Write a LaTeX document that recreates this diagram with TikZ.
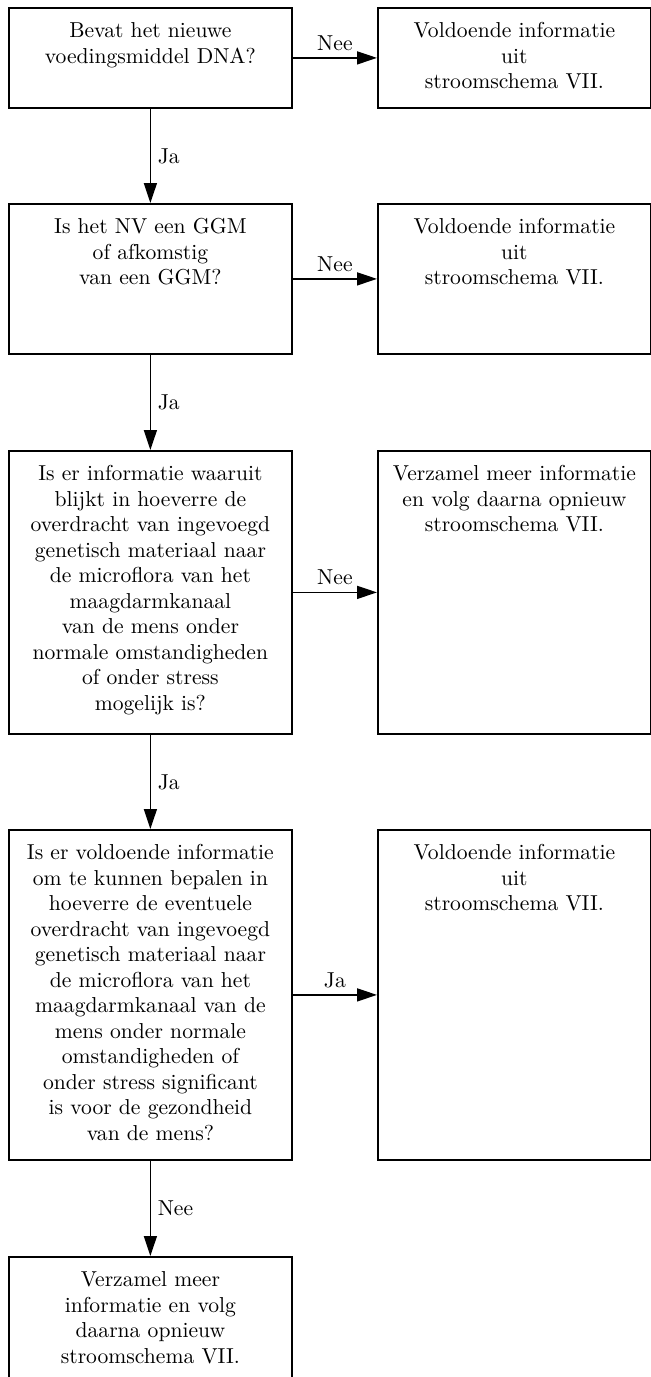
\documentclass[tikz,border=0pt]{standalone}
\usetikzlibrary{arrows.meta,positioning}

% text block at the top of a box: height, width, lines
\newcommand{\toplines}[3]{\parbox[t][#1][t]{#2}{\centering\rule{0pt}{15pt}#3}}

\begin{document}
\begin{tikzpicture}[
    x=0.5pt, y=-0.5pt,
    qbox/.style={draw, line width=0.9pt, anchor=north west, inner sep=0pt,
                 font=\fontsize{10.8}{12.75}\selectfont},
    arr/.style={-{Triangle[length=10pt, width=6.5pt]}, line width=0.7pt},
    lbl/.style={font=\fontsize{10.8}{12.75}\selectfont}
]
\useasboundingbox (0,0) rectangle (651,1377);
\clip (0,0) rectangle (651,1377);

\node[qbox] (q1) at (8,7)    {\toplines{50pt}{141.5pt}{Bevat het nieuwe\\voedingsmiddel DNA?}};
\node[qbox] (r1) at (377,7)  {\toplines{50pt}{136.5pt}{Voldoende informatie\\uit\\stroomschema VII.}};

\node[qbox] (q2) at (8,203)   {\toplines{75pt}{141.5pt}{Is het NV een GGM\\of afkomstig\\van een GGM?}};
\node[qbox] (r2) at (377,203) {\toplines{75pt}{136.5pt}{Voldoende informatie\\uit\\stroomschema VII.}};

\node[qbox] (q3) at (8,450)   {\toplines{141.5pt}{141.5pt}{Is er informatie waaruit\\blijkt in hoeverre de\\overdracht van ingevoegd\\genetisch materiaal naar\\de microflora van het\\maagdarmkanaal\\van de mens onder\\normale omstandigheden\\of onder stress\\mogelijk is?}};
\node[qbox] (r3) at (377,450) {\toplines{141.5pt}{136.5pt}{Verzamel meer informatie\\en volg daarna opnieuw\\stroomschema VII.}};

\node[qbox] (q4) at (8,829)   {\toplines{165pt}{141.5pt}{Is er voldoende informatie\\om te kunnen bepalen in\\hoeverre de eventuele\\overdracht van ingevoegd\\genetisch materiaal naar\\de microflora van het\\maagdarmkanaal van de\\mens onder normale\\omstandigheden of\\onder stress significant\\is voor de gezondheid\\van de mens?}};
\node[qbox] (r4) at (377,829) {\toplines{165pt}{136.5pt}{Voldoende informatie\\uit\\stroomschema VII.}};

\node[qbox] (q5) at (8,1256)  {\toplines{65pt}{141.5pt}{Verzamel meer\\informatie en volg\\daarna opnieuw\\stroomschema VII.}};

\draw[arr] (q1) -- node[lbl, above] {Nee} (r1);
\draw[arr] (q2) -- node[lbl, above] {Nee} (r2);
\draw[arr] (q3) -- node[lbl, above] {Nee} (r3);
\draw[arr] (q4) -- node[lbl, above] {Ja} (r4);

\draw[arr] (q1) -- node[lbl, right] {Ja} (q2);
\draw[arr] (q2) -- node[lbl, right] {Ja} (q3);
\draw[arr] (q3) -- node[lbl, right] {Ja} (q4);
\draw[arr] (q4) -- node[lbl, right] {Nee} (q5);
\end{tikzpicture}
\end{document}
